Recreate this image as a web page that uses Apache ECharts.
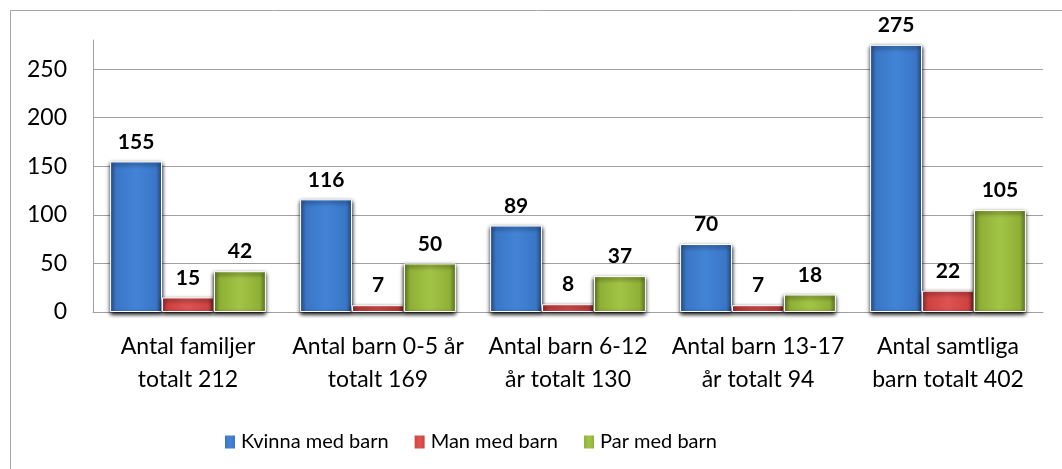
<!DOCTYPE html>
<html>
<head>
<meta charset="utf-8">
<script src="https://cdn.jsdelivr.net/npm/echarts@6/dist/echarts.min.js"></script>
<style>
  html, body { margin: 0; padding: 0; background: #fff; }
  #chart { width: 1062px; height: 469px; }
</style>
</head>
<body>
<div id="chart"></div>
<script>
var categories = [
    'Antal familjer\ntotalt 212',
    'Antal barn 0-5 år\ntotalt 169',
    'Antal barn 6-12\når totalt 130',
    'Antal barn 13-17\når totalt 94',
    'Antal samtliga\nbarn totalt 402'
];
var kvinna = [155, 116, 89, 70, 275];   // Kvinna med barn
var man = [15, 7, 8, 7, 22];            // Man med barn
var par = [42, 50, 37, 18, 105];        // Par med barn
var yTicks = [0, 50, 100, 150, 200, 250];

function grad(dark, mid, light) {
    return new echarts.graphic.LinearGradient(0, 0, 1, 0, [
        {offset: 0, color: dark},
        {offset: 0.12, color: mid},
        {offset: 0.5, color: light},
        {offset: 0.88, color: mid},
        {offset: 1, color: dark}
    ]);
}

function barSeries(name, data, c) {
    return {
        name: name,
        type: 'bar',
        data: data,
        barGap: '0%',
        barCategoryGap: '18%',
        itemStyle: {
            color: c,
            borderColor: '#ffffff',
            borderWidth: 1,
            shadowColor: '#000000',
            shadowBlur: 4,
            shadowOffsetY: 2
        },
        label: {
            show: true,
            position: 'top',
            distance: 9,
            color: '#000',
            fontFamily: 'Lato',
            fontWeight: 'bold',
            fontSize: 21
        }
    };
}

var myChart = echarts.init(document.getElementById('chart'));
myChart.setOption({
    animation: false,
    graphic: [{
        type: 'rect',
        shape: {x: 10.5, y: 10.5, width: 1070, height: 480},
        style: {fill: 'none', stroke: '#a6a6a6', lineWidth: 1}
    }],
    legend: {
        left: 218,
        top: 427,
        itemWidth: 12,
        itemHeight: 15,
        itemGap: 24,
        icon: 'rect',
        textStyle: {fontFamily: 'Lato', fontSize: 20, color: '#000'},
        data: ['Kvinna med barn', 'Man med barn', 'Par med barn']
    },
    grid: {left: 93, right: 19, top: 40, bottom: 157},
    xAxis: {
        type: 'category',
        data: categories,
        axisTick: {show: false},
        axisLine: {lineStyle: {color: '#a0a0a0', width: 1}},
        axisLabel: {
            interval: 0,
            margin: 18,
            lineHeight: 33,
            color: '#000',
            fontFamily: 'Lato',
            fontSize: 23
        }
    },
    yAxis: {
        type: 'value',
        min: 0,
        max: 280,
        interval: 50,
        axisLine: {show: true, lineStyle: {color: '#a0a0a0', width: 1}},
        axisTick: {show: false},
        splitLine: {showMaxLine: false, lineStyle: {color: '#a0a0a0', width: 1}},
        axisLabel: {
            showMaxLabel: false,
            margin: 26,
            color: '#000',
            fontFamily: 'Lato',
            fontSize: 23,
            formatter: function (v) { return yTicks.indexOf(v) >= 0 ? String(v) : ''; }
        }
    },
    series: [
        barSeries('Kvinna med barn', kvinna, grad('#2c5a98', '#3a76c6', '#4384d6')),
        barSeries('Man med barn', man, grad('#a83232', '#d04242', '#de5252')),
        barSeries('Par med barn', par, grad('#6d8a26', '#8fb036', '#a2c446'))
    ]
});
</script>
</body>
</html>
